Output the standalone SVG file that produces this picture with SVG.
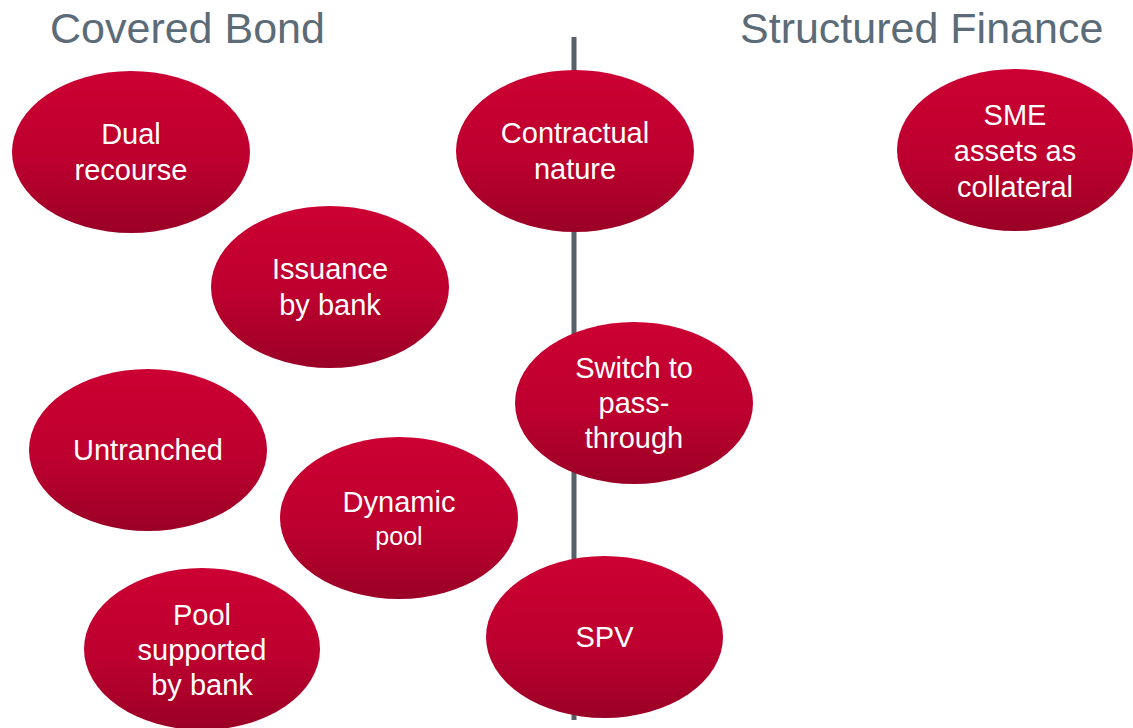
<svg xmlns="http://www.w3.org/2000/svg" width="1133" height="728" viewBox="0 0 1133 728">
<defs>
<linearGradient id="red" x1="0" y1="0" x2="0" y2="1">
<stop offset="0" stop-color="#cc0033"/>
<stop offset="0.55" stop-color="#bd002f"/>
<stop offset="1" stop-color="#9a0026"/>
</linearGradient>
<style>
.title{font-family:"Liberation Sans",Arial,sans-serif;font-size:43px;fill:#5b6b77}
.node ellipse{fill:url(#red)}
.node text{font-family:"Liberation Sans",Arial,sans-serif;font-size:29px;fill:#ffffff;text-anchor:middle}
.node text .sm{font-size:25px}
.conn{stroke:#59606a;stroke-width:5;fill:none}
</style>
</defs>
<rect width="1133" height="728" fill="#ffffff"/>
<text class="title" x="50" y="43">Covered Bond</text>
<text class="title" x="740" y="43">Structured Finance</text>
<g id="connectors">
<line class="conn" x1="574" y1="37" x2="574" y2="720"/>
</g>
<g id="dual-recourse" class="node">
<ellipse cx="131" cy="152" rx="119" ry="81"/>
<text x="131" y="144">Dual</text>
<text x="131" y="180">recourse</text>
</g>
<g id="issuance-by-bank" class="node">
<ellipse cx="330" cy="287" rx="119" ry="81"/>
<text x="330" y="279">Issuance</text>
<text x="330" y="315">by bank</text>
</g>
<g id="untranched" class="node">
<ellipse cx="148" cy="450" rx="119" ry="81"/>
<text x="148" y="460">Untranched</text>
</g>
<g id="dynamic-pool" class="node">
<ellipse cx="399" cy="518" rx="119" ry="81"/>
<text x="399" y="512">Dynamic</text>
<text x="399" y="545"><tspan class="sm">pool</tspan></text>
</g>
<g id="pool-supported" class="node">
<ellipse cx="202" cy="649" rx="118" ry="81"/>
<text x="202" y="625">Pool</text>
<text x="202" y="660">supported</text>
<text x="202" y="695">by bank</text>
</g>
<g id="contractual-nature" class="node">
<ellipse cx="575" cy="151" rx="119" ry="81"/>
<text x="575" y="143">Contractual</text>
<text x="575" y="179">nature</text>
</g>
<g id="switch-pass-through" class="node">
<ellipse cx="634" cy="403" rx="119" ry="81"/>
<text x="634" y="378">Switch to</text>
<text x="634" y="413">pass-</text>
<text x="634" y="448">through</text>
</g>
<g id="spv" class="node">
<ellipse cx="604.5" cy="637" rx="118.5" ry="81"/>
<text x="604.5" y="647">SPV</text>
</g>
<g id="sme-assets" class="node">
<ellipse cx="1015" cy="150" rx="118" ry="81"/>
<text x="1015" y="125">SME</text>
<text x="1015" y="161">assets as</text>
<text x="1015" y="197">collateral</text>
</g>
</svg>
